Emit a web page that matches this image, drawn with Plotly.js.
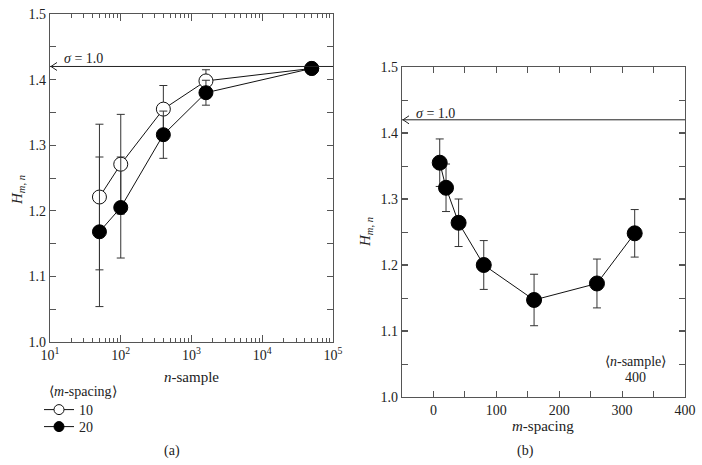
<!DOCTYPE html>
<html>
<head>
<meta charset="utf-8">
<script src="https://cdn.plot.ly/plotly-3.0.1.min.js"></script>
<style>html,body{margin:0;padding:0;background:#fff;}#chart{width:702px;height:465px;}</style>
</head>
<body>
<div id="chart"></div>
<script>
// ---- data ----
const nSample = [50, 100, 400, 1600, 50000];
const h_m10 = [1.221, 1.271, 1.355, 1.398, 1.417];
const err_m10 = [0.111, 0.076, 0.036, 0.017, 0];
const h_m20 = [1.168, 1.205, 1.316, 1.380, 1.417];
const err_m20 = [0.114, 0.077, 0.036, 0.019, 0];

const mSpacing = [10, 20, 40, 80, 160, 260, 320];
const h_n400 = [1.355, 1.317, 1.264, 1.200, 1.147, 1.172, 1.248];
const err_n400 = [0.036, 0.036, 0.036, 0.037, 0.039, 0.037, 0.036];

const sigmaLevel = 1.42;
const legendNames = ['10', '20'];
const logTickVals = [10, 100, 1000, 10000, 100000];
const logTickText = ['10<sup>1</sup>', '10<sup>2</sup>', '10<sup>3</sup>', '10<sup>4</sup>', '10<sup>5</sup>'];
const logMinor = [];
[10, 100, 1000, 10000].forEach(d => { for (let k = 2; k <= 9; k++) logMinor.push(d * k); });

// ---- style ----
const FONT = '"Liberation Serif", "Times New Roman", serif';
const AX = '#555';
const W = 702, H = 465;
const px = v => v / W, py = v => 1 - v / H;

const errStyle = (arr) => ({type: 'data', array: arr, visible: true, color: '#333', thickness: 1, width: 4});

const traces = [
  {x: nSample, y: h_m10, name: legendNames[0], type: 'scatter', mode: 'lines+markers', showlegend: false,
   xaxis: 'x', yaxis: 'y', error_y: errStyle(err_m10),
   line: {color: '#111', width: 1},
   marker: {symbol: 'circle', size: 14, color: '#fff', line: {color: '#111', width: 1}}},
  {x: nSample, y: h_m20, name: legendNames[1], type: 'scatter', mode: 'lines+markers', showlegend: false,
   xaxis: 'x', yaxis: 'y', error_y: errStyle(err_m20),
   line: {color: '#111', width: 1},
   marker: {symbol: 'circle', size: 14, color: '#000', line: {color: '#000', width: 1}}},
  {x: mSpacing, y: h_n400, name: '400', type: 'scatter', mode: 'lines+markers', showlegend: false,
   xaxis: 'x2', yaxis: 'y2', error_y: errStyle(err_n400),
   line: {color: '#111', width: 1},
   marker: {symbol: 'circle', size: 15, color: '#000', line: {color: '#000', width: 1}}},
  // legend-only entries (smaller symbols, as in the reference key)
  {x: [null], y: [null], name: legendNames[0], type: 'scatter', mode: 'lines+markers', xaxis: 'x', yaxis: 'y', legend: 'legend',
   line: {color: '#111', width: 1}, marker: {symbol: 'circle', size: 10, color: '#fff', line: {color: '#111', width: 1}}},
  {x: [null], y: [null], name: legendNames[1], type: 'scatter', mode: 'lines+markers', xaxis: 'x', yaxis: 'y', legend: 'legend2',
   line: {color: '#111', width: 1}, marker: {symbol: 'circle', size: 10, color: '#000', line: {color: '#000', width: 1}}}
];

const baseAxis = {
  showgrid: false, zeroline: false, showline: true, linecolor: AX, linewidth: 1.2,
  mirror: 'ticks', ticks: 'inside', ticklen: 6, tickcolor: AX, tickwidth: 1.2,
  tickfont: {family: FONT, size: 14, color: '#222'}
};

const legendBase = {
  xanchor: 'left', yanchor: 'middle', bgcolor: 'rgba(0,0,0,0)',
  font: {family: FONT, size: 14, color: '#222'}, itemwidth: 30, tracegroupgap: 0
};

const layout = {
  width: W, height: H,
  margin: {l: 0, r: 0, t: 0, b: 0},
  paper_bgcolor: '#fff', plot_bgcolor: '#fff',
  font: {family: FONT, size: 14, color: '#222'},
  showlegend: true,
  legend: Object.assign({}, legendBase, {x: px(39), y: py(410)}),
  legend2: Object.assign({}, legendBase, {x: px(39), y: py(427)}),
  xaxis: Object.assign({}, baseAxis, {
    type: 'log', range: [1, 5], domain: [px(50), px(333)], anchor: 'y',
    tickmode: 'array', tickvals: logTickVals, ticktext: logTickText, ticklen: 7,
    minor: {ticks: 'inside', ticklen: 4, tickcolor: AX, tickwidth: 1, tickmode: 'array', tickvals: logMinor, showgrid: false}
  }),
  yaxis: Object.assign({}, baseAxis, {
    range: [1.0, 1.5], domain: [py(342), py(14)], anchor: 'x',
    dtick: 0.1, tick0: 1.0, tickformat: '.1f',
    minor: {ticks: 'inside', ticklen: 6, tickcolor: AX, tickwidth: 1, dtick: 0.05, showgrid: false}
  }),
  xaxis2: Object.assign({}, baseAxis, {
    range: [-50, 400], domain: [px(402), px(685)], anchor: 'y2',
    dtick: 100, tick0: 0,
    minor: {ticks: 'inside', ticklen: 6, tickcolor: AX, tickwidth: 1, dtick: 50, showgrid: false}
  }),
  yaxis2: Object.assign({}, baseAxis, {
    range: [1.0, 1.5], domain: [py(397), py(67)], anchor: 'x2',
    dtick: 0.1, tick0: 1.0, tickformat: '.1f',
    minor: {ticks: 'inside', ticklen: 6, tickcolor: AX, tickwidth: 1, dtick: 0.05, showgrid: false}
  }),
  shapes: [
    {type: 'line', xref: 'x domain', yref: 'y', x0: 0, x1: 1, y0: sigmaLevel, y1: sigmaLevel, line: {color: '#222', width: 1}},
    {type: 'path', xref: 'x domain', yref: 'y', xsizemode: 'pixel', ysizemode: 'pixel', xanchor: 0, yanchor: sigmaLevel,
     path: 'M7,4 L1,0 L7,-4', line: {color: '#222', width: 1}},
    {type: 'line', xref: 'x2 domain', yref: 'y2', x0: 0, x1: 1, y0: sigmaLevel, y1: sigmaLevel, line: {color: '#222', width: 1}},
    {type: 'path', xref: 'x2 domain', yref: 'y2', xsizemode: 'pixel', ysizemode: 'pixel', xanchor: 0, yanchor: sigmaLevel,
     path: 'M7,4 L1,0 L7,-4', line: {color: '#222', width: 1}}
  ],
  annotations: [
    {xref: 'paper', yref: 'paper', x: px(47), y: py(391), xanchor: 'left', yanchor: 'middle', showarrow: false,
     text: '⟨<i>m</i>-spacing⟩', font: {family: FONT, size: 14, color: '#222'}},
    {xref: 'paper', yref: 'paper', x: px(62), y: py(58), xanchor: 'left', yanchor: 'middle', showarrow: false,
     text: '<i>σ</i> = 1.0', font: {family: FONT, size: 14, color: '#222'}},
    {xref: 'paper', yref: 'paper', x: px(414), y: py(113), xanchor: 'left', yanchor: 'middle', showarrow: false,
     text: '<i>σ</i> = 1.0', font: {family: FONT, size: 14, color: '#222'}},
    {xref: 'paper', yref: 'paper', x: px(191), y: py(377), xanchor: 'center', yanchor: 'middle', showarrow: false,
     text: '<i>n</i>-sample', font: {family: FONT, size: 15, color: '#222'}},
    {xref: 'paper', yref: 'paper', x: px(543), y: py(426), xanchor: 'center', yanchor: 'middle', showarrow: false,
     text: '<i>m</i>-spacing', font: {family: FONT, size: 15, color: '#222'}},
    {xref: 'paper', yref: 'paper', x: px(18), y: py(190), xanchor: 'center', yanchor: 'middle', showarrow: false, textangle: -90,
     text: '<i>H</i><sub><i>m</i>, <i>n</i></sub>', font: {family: FONT, size: 15, color: '#222'}},
    {xref: 'paper', yref: 'paper', x: px(366), y: py(232), xanchor: 'center', yanchor: 'middle', showarrow: false, textangle: -90,
     text: '<i>H</i><sub><i>m</i>, <i>n</i></sub>', font: {family: FONT, size: 15, color: '#222'}},
    {xref: 'paper', yref: 'paper', x: px(635), y: py(361), xanchor: 'center', yanchor: 'middle', showarrow: false,
     text: '⟨<i>n</i>-sample⟩', font: {family: FONT, size: 14, color: '#222'}},
    {xref: 'paper', yref: 'paper', x: px(635), y: py(377), xanchor: 'center', yanchor: 'middle', showarrow: false,
     text: '400', font: {family: FONT, size: 14, color: '#222'}},
    {xref: 'paper', yref: 'paper', x: px(172), y: py(451), xanchor: 'center', yanchor: 'middle', showarrow: false,
     text: '(a)', font: {family: FONT, size: 14, color: '#222'}},
    {xref: 'paper', yref: 'paper', x: px(525), y: py(451), xanchor: 'center', yanchor: 'middle', showarrow: false,
     text: '(b)', font: {family: FONT, size: 14, color: '#222'}}
  ]
};

Plotly.newPlot('chart', traces, layout, {staticPlot: true, displayModeBar: false});
</script>
</body>
</html>
